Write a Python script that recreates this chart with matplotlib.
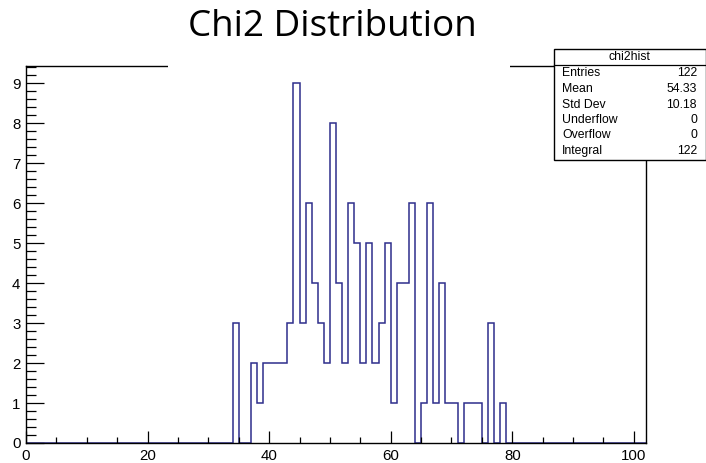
import numpy as np
import matplotlib.pyplot as plt
from matplotlib.patches import Rectangle
from matplotlib.lines import Line2D
from matplotlib.ticker import MultipleLocator

# chi2 histogram: 102 unit-width bins on [0, 102], filled bins start at 34
x_min, x_max = 0, 102
first_bin = 34
counts = [3, 0, 0, 2, 1, 2, 2, 2, 2, 3, 9, 3, 6, 4, 3, 2, 8, 4, 2, 6,
          5, 2, 5, 2, 3, 5, 1, 4, 4, 6, 0, 1, 6, 1, 4, 1, 1, 0, 1, 1,
          1, 0, 3, 0, 1]

stat_names = ["Entries", "Mean", "Std Dev", "Underflow", "Overflow", "Integral"]
stat_values = ["122", "54.33", "10.18", "0", "0", "122"]

W, H = 706, 463
fig = plt.figure(figsize=(W / 100, H / 100), dpi=100)
fig.patch.set_facecolor("white")

ax = fig.add_axes([26 / W, 20 / H, (646 - 26) / W, (443 - 65.5) / H])

edges = np.arange(x_min, x_max + 1)
full = np.zeros(len(edges) - 1)
full[first_bin:first_bin + len(counts)] = counts
ax.stairs(full, edges, color="#2e2e8c", linewidth=1.1)

ax.set_xlim(x_min, x_max)
ax.set_ylim(0, max(counts) * 1.05)

ax.xaxis.set_major_locator(MultipleLocator(20))
ax.xaxis.set_minor_locator(MultipleLocator(5))
ax.yaxis.set_major_locator(MultipleLocator(1))
ax.yaxis.set_minor_locator(MultipleLocator(0.2))

ax.tick_params(axis="both", which="both", direction="in", top=False, right=False,
               labelsize=10.8, width=0.9, colors="black")
ax.tick_params(axis="x", which="major", length=8.5, pad=4)
ax.tick_params(axis="x", which="minor", length=4.3)
ax.tick_params(axis="y", which="major", length=13, pad=4)
ax.tick_params(axis="y", which="minor", length=7)
for lab in ax.get_xticklabels() + ax.get_yticklabels():
    lab.set_fontfamily("Liberation Sans")
for sp in ax.spines.values():
    sp.set_linewidth(1.0)

# title pad hides the middle of the top frame line
fig.patches.append(Rectangle((168 / W, 1 - 70 / H), (510 - 168) / W, 70 / H,
                             transform=fig.transFigure, facecolor="white",
                             edgecolor="none", zorder=5))
fig.text(332 / W, 1 - 27 / H, "Chi2 Distribution", ha="center", va="center",
         fontsize=26.5, family="Open Sans", zorder=6)

# statistics box
bx0, bx1, by0, by1 = 554, 705.5, 49.5, 159.5
fig.patches.append(Rectangle((bx0 / W, 1 - by1 / H), (bx1 - bx0) / W, (by1 - by0) / H,
                             transform=fig.transFigure, facecolor="white",
                             edgecolor="black", linewidth=1.0, zorder=5))
fig.lines.append(Line2D([bx0 / W, bx1 / W], [1 - 65 / H, 1 - 65 / H],
                        transform=fig.transFigure, color="black", linewidth=0.9,
                        zorder=6))
fig.text((bx0 + bx1) / 2 / W, 1 - 57.5 / H, "chi2hist", ha="center", va="center",
         fontsize=8.8, family="Liberation Sans", zorder=7)
row_y = [73.5, 89, 104.5, 120, 135.5, 151]
for name, val, y in zip(stat_names, stat_values, row_y):
    fig.text(562 / W, 1 - y / H, name, ha="left", va="center", fontsize=8.8,
             family="Liberation Sans", zorder=7)
    fig.text(697 / W, 1 - y / H, val, ha="right", va="center", fontsize=8.8,
             family="Liberation Sans", zorder=7)

fig.savefig("out.png", dpi=100)
